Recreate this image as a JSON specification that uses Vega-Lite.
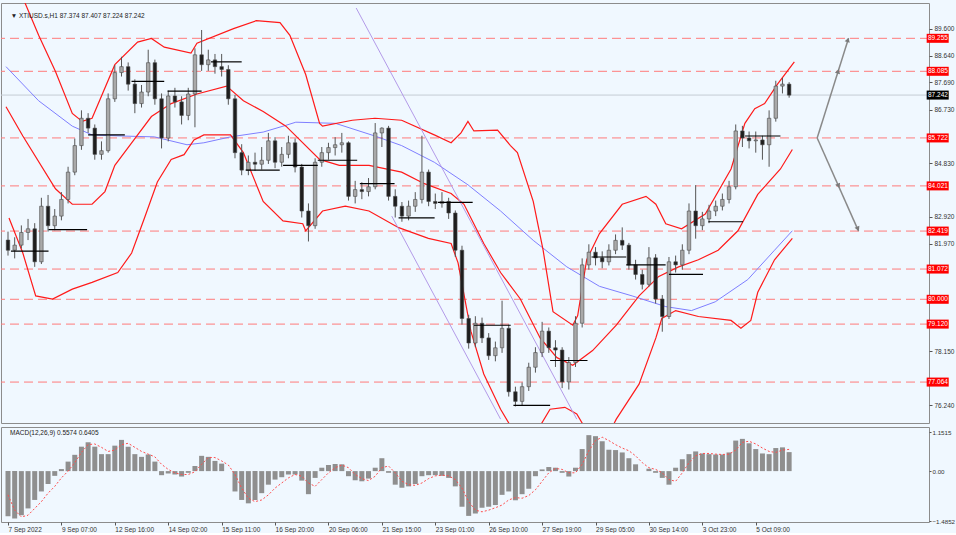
{
"$schema":"https://vega.github.io/schema/vega-lite/v6.json",
"background":"#f0f8ff",
"padding":{"left":0,"top":2,"right":0,"bottom":0},
"spacing":2,
"config":{"view":{"stroke":"#8c8c8c","strokeWidth":1,"fill":"#f0f8ff"},"axis":{"labelFont":"Liberation Sans","labelFontSize":6.5,"labelColor":"#333333","tickColor":"#555555","tickSize":3,"domain":false,"grid":false},"text":{"font":"Liberation Sans"}},
"datasets":{
"bars":[
{"i":0,"o":82.10,"h":82.40,"l":81.55,"c":81.74,"m":-1.33,"s":-0.70},
{"i":1,"o":81.74,"h":82.20,"l":81.45,"c":81.92,"m":-1.40,"s":-1.15},
{"i":2,"o":81.92,"h":82.62,"l":81.80,"c":82.37,"m":-1.30,"s":-1.35},
{"i":3,"o":82.37,"h":82.85,"l":82.10,"c":82.50,"m":-1.10,"s":-1.30},
{"i":4,"o":82.50,"h":82.70,"l":81.15,"c":81.33,"m":-0.85,"s":-1.10},
{"i":5,"o":81.33,"h":83.60,"l":81.25,"c":83.30,"m":-0.60,"s":-0.90},
{"i":6,"o":83.30,"h":83.70,"l":82.40,"c":82.61,"m":-0.38,"s":-0.65},
{"i":7,"o":82.61,"h":83.20,"l":82.45,"c":82.95,"m":-0.14,"s":-0.45},
{"i":8,"o":82.95,"h":83.80,"l":82.80,"c":83.54,"m":0.06,"s":-0.20},
{"i":9,"o":83.54,"h":84.70,"l":83.40,"c":84.51,"m":0.28,"s":0.00},
{"i":10,"o":84.51,"h":85.70,"l":84.40,"c":85.45,"m":0.48,"s":0.25},
{"i":11,"o":85.45,"h":86.70,"l":85.30,"c":86.42,"m":0.72,"s":0.55},
{"i":12,"o":86.42,"h":86.60,"l":85.90,"c":86.07,"m":0.85,"s":0.78},
{"i":13,"o":86.07,"h":86.20,"l":84.95,"c":85.14,"m":0.72,"s":0.80},
{"i":14,"o":85.14,"h":85.60,"l":84.95,"c":85.27,"m":0.50,"s":0.70},
{"i":15,"o":85.27,"h":87.30,"l":85.20,"c":87.11,"m":0.50,"s":0.58},
{"i":16,"o":87.11,"h":88.30,"l":87.00,"c":88.04,"m":0.75,"s":0.62},
{"i":17,"o":88.04,"h":88.60,"l":87.90,"c":88.25,"m":0.92,"s":0.78},
{"i":18,"o":88.25,"h":88.40,"l":87.40,"c":87.63,"m":0.72,"s":0.82},
{"i":19,"o":87.63,"h":87.80,"l":86.60,"c":86.94,"m":0.50,"s":0.70},
{"i":20,"o":86.94,"h":87.60,"l":86.80,"c":87.35,"m":0.42,"s":0.58},
{"i":21,"o":87.35,"h":88.85,"l":87.20,"c":88.39,"m":0.49,"s":0.50},
{"i":22,"o":88.39,"h":88.50,"l":86.90,"c":87.11,"m":0.28,"s":0.42},
{"i":23,"o":87.11,"h":87.30,"l":85.35,"c":85.72,"m":-0.12,"s":0.20},
{"i":24,"o":85.72,"h":87.40,"l":85.60,"c":87.21,"m":-0.07,"s":0.05},
{"i":25,"o":87.21,"h":87.50,"l":86.80,"c":87.00,"m":-0.10,"s":-0.05},
{"i":26,"o":87.00,"h":87.20,"l":86.20,"c":86.52,"m":-0.16,"s":-0.10},
{"i":27,"o":86.52,"h":87.50,"l":86.35,"c":87.28,"m":-0.05,"s":-0.10},
{"i":28,"o":87.28,"h":88.90,"l":86.10,"c":88.67,"m":0.15,"s":-0.02},
{"i":29,"o":88.67,"h":89.55,"l":88.10,"c":88.32,"m":0.45,"s":0.20},
{"i":30,"o":88.32,"h":88.85,"l":88.10,"c":88.49,"m":0.42,"s":0.40},
{"i":31,"o":88.49,"h":88.70,"l":88.00,"c":88.25,"m":0.30,"s":0.40},
{"i":32,"o":88.25,"h":88.70,"l":87.90,"c":88.15,"m":0.22,"s":0.30},
{"i":33,"o":88.15,"h":88.30,"l":86.90,"c":87.11,"m":0.00,"s":0.18},
{"i":34,"o":87.11,"h":87.25,"l":85.00,"c":85.20,"m":-0.60,"s":-0.10},
{"i":35,"o":85.20,"h":85.50,"l":84.40,"c":84.58,"m":-0.85,"s":-0.50},
{"i":36,"o":84.58,"h":85.10,"l":84.40,"c":84.86,"m":-0.95,"s":-0.80},
{"i":37,"o":84.86,"h":85.20,"l":84.55,"c":84.79,"m":-0.85,"s":-0.90},
{"i":38,"o":84.79,"h":85.40,"l":84.60,"c":84.93,"m":-0.65,"s":-0.85},
{"i":39,"o":84.93,"h":85.90,"l":84.80,"c":85.62,"m":-0.40,"s":-0.70},
{"i":40,"o":85.62,"h":85.75,"l":84.65,"c":84.86,"m":-0.25,"s":-0.50},
{"i":41,"o":84.86,"h":85.40,"l":84.70,"c":85.14,"m":-0.18,"s":-0.35},
{"i":42,"o":85.14,"h":85.80,"l":85.00,"c":85.55,"m":-0.10,"s":-0.20},
{"i":43,"o":85.55,"h":85.70,"l":84.50,"c":84.69,"m":-0.10,"s":-0.10},
{"i":44,"o":84.69,"h":84.80,"l":82.90,"c":83.13,"m":-0.28,"s":-0.15},
{"i":45,"o":83.13,"h":83.40,"l":82.05,"c":82.61,"m":-0.68,"s":-0.35},
{"i":46,"o":82.61,"h":85.00,"l":82.50,"c":84.86,"m":-0.20,"s":-0.45},
{"i":47,"o":84.86,"h":85.40,"l":84.70,"c":85.20,"m":0.10,"s":-0.25},
{"i":48,"o":85.20,"h":85.55,"l":84.95,"c":85.38,"m":0.18,"s":-0.05},
{"i":49,"o":85.38,"h":85.75,"l":85.10,"c":85.48,"m":0.21,"s":0.10},
{"i":50,"o":85.48,"h":85.90,"l":85.20,"c":85.55,"m":0.20,"s":0.18},
{"i":51,"o":85.55,"h":85.60,"l":83.50,"c":83.65,"m":-0.15,"s":0.10},
{"i":52,"o":83.65,"h":84.20,"l":83.40,"c":83.89,"m":-0.27,"s":-0.10},
{"i":53,"o":83.89,"h":84.15,"l":83.55,"c":83.82,"m":-0.30,"s":-0.22},
{"i":54,"o":83.82,"h":84.30,"l":83.65,"c":83.99,"m":-0.22,"s":-0.28},
{"i":55,"o":83.99,"h":86.25,"l":83.90,"c":85.90,"m":0.10,"s":-0.15},
{"i":56,"o":85.90,"h":86.10,"l":85.40,"c":86.07,"m":0.38,"s":0.10},
{"i":57,"o":86.07,"h":86.15,"l":83.50,"c":83.65,"m":-0.05,"s":0.15},
{"i":58,"o":83.65,"h":83.90,"l":82.90,"c":83.30,"m":-0.40,"s":-0.05},
{"i":59,"o":83.30,"h":83.45,"l":82.75,"c":82.95,"m":-0.49,"s":-0.30},
{"i":60,"o":82.95,"h":83.50,"l":82.80,"c":83.30,"m":-0.45,"s":-0.40},
{"i":61,"o":83.30,"h":83.80,"l":83.10,"c":83.54,"m":-0.38,"s":-0.42},
{"i":62,"o":83.54,"h":85.80,"l":83.40,"c":84.51,"m":-0.15,"s":-0.35},
{"i":63,"o":84.51,"h":84.60,"l":83.30,"c":83.47,"m":-0.12,"s":-0.22},
{"i":64,"o":83.47,"h":83.75,"l":83.20,"c":83.40,"m":-0.12,"s":-0.14},
{"i":65,"o":83.40,"h":83.80,"l":83.25,"c":83.47,"m":-0.14,"s":-0.12},
{"i":66,"o":83.47,"h":83.60,"l":82.85,"c":83.06,"m":-0.20,"s":-0.14},
{"i":67,"o":83.06,"h":83.15,"l":81.50,"c":81.74,"m":-0.45,"s":-0.25},
{"i":68,"o":81.74,"h":81.90,"l":79.10,"c":79.32,"m":-1.05,"s":-0.50},
{"i":69,"o":79.32,"h":79.45,"l":78.25,"c":78.45,"m":-1.32,"s":-0.90},
{"i":70,"o":78.45,"h":79.40,"l":78.30,"c":79.15,"m":-1.25,"s":-1.15},
{"i":71,"o":79.15,"h":79.35,"l":78.45,"c":78.63,"m":-1.08,"s":-1.20},
{"i":72,"o":78.63,"h":78.80,"l":77.85,"c":78.00,"m":-1.05,"s":-1.15},
{"i":73,"o":78.00,"h":78.50,"l":77.80,"c":78.28,"m":-1.00,"s":-1.08},
{"i":74,"o":78.28,"h":79.95,"l":78.10,"c":78.97,"m":-0.70,"s":-1.00},
{"i":75,"o":78.97,"h":79.10,"l":76.55,"c":76.72,"m":-0.60,"s":-0.85},
{"i":76,"o":76.72,"h":76.90,"l":76.20,"c":76.38,"m":-0.86,"s":-0.78},
{"i":77,"o":76.38,"h":77.05,"l":76.25,"c":76.90,"m":-0.68,"s":-0.80},
{"i":78,"o":76.90,"h":77.75,"l":76.75,"c":77.59,"m":-0.52,"s":-0.72},
{"i":79,"o":77.59,"h":78.30,"l":77.40,"c":78.11,"m":-0.15,"s":-0.55},
{"i":80,"o":78.11,"h":79.20,"l":77.95,"c":78.87,"m":0.05,"s":-0.30},
{"i":81,"o":78.87,"h":79.00,"l":78.10,"c":78.28,"m":0.12,"s":-0.05},
{"i":82,"o":78.28,"h":78.55,"l":77.60,"c":78.20,"m":0.10,"s":0.08},
{"i":83,"o":78.20,"h":78.30,"l":76.85,"c":77.07,"m":-0.05,"s":0.05},
{"i":84,"o":77.07,"h":77.95,"l":76.80,"c":77.76,"m":-0.16,"s":-0.05},
{"i":85,"o":77.76,"h":79.40,"l":77.60,"c":79.15,"m":0.10,"s":-0.05},
{"i":86,"o":79.15,"h":81.45,"l":79.00,"c":81.22,"m":0.65,"s":0.20},
{"i":87,"o":81.22,"h":81.95,"l":81.05,"c":81.67,"m":1.06,"s":0.60},
{"i":88,"o":81.67,"h":81.85,"l":81.20,"c":81.47,"m":1.03,"s":0.90},
{"i":89,"o":81.47,"h":81.70,"l":81.10,"c":81.33,"m":0.88,"s":1.00},
{"i":90,"o":81.33,"h":81.95,"l":81.20,"c":81.74,"m":0.63,"s":0.90},
{"i":91,"o":81.74,"h":82.30,"l":81.60,"c":82.09,"m":0.62,"s":0.78},
{"i":92,"o":82.09,"h":82.55,"l":81.75,"c":81.92,"m":0.55,"s":0.68},
{"i":93,"o":81.92,"h":82.00,"l":81.05,"c":81.22,"m":0.38,"s":0.60},
{"i":94,"o":81.22,"h":81.40,"l":80.70,"c":80.88,"m":0.20,"s":0.45},
{"i":95,"o":80.88,"h":81.05,"l":80.35,"c":80.53,"m":0.00,"s":0.25},
{"i":96,"o":80.53,"h":81.85,"l":80.45,"c":81.47,"m":0.07,"s":0.10},
{"i":97,"o":81.47,"h":81.60,"l":79.85,"c":80.01,"m":-0.05,"s":0.05},
{"i":98,"o":80.01,"h":80.15,"l":78.85,"c":79.39,"m":-0.20,"s":-0.05},
{"i":99,"o":79.39,"h":81.50,"l":79.30,"c":81.33,"m":-0.40,"s":-0.25},
{"i":100,"o":81.33,"h":81.55,"l":80.95,"c":81.22,"m":0.10,"s":-0.30},
{"i":101,"o":81.22,"h":81.95,"l":81.05,"c":81.74,"m":0.35,"s":-0.05},
{"i":102,"o":81.74,"h":83.40,"l":81.60,"c":83.13,"m":0.50,"s":0.25},
{"i":103,"o":83.13,"h":84.05,"l":82.15,"c":82.61,"m":0.58,"s":0.45},
{"i":104,"o":82.61,"h":83.10,"l":82.45,"c":82.85,"m":0.52,"s":0.52},
{"i":105,"o":82.85,"h":83.35,"l":82.70,"c":83.13,"m":0.50,"s":0.52},
{"i":106,"o":83.13,"h":83.50,"l":82.95,"c":83.30,"m":0.49,"s":0.50},
{"i":107,"o":83.30,"h":83.75,"l":83.15,"c":83.54,"m":0.49,"s":0.49},
{"i":108,"o":83.54,"h":84.20,"l":83.40,"c":83.99,"m":0.55,"s":0.50},
{"i":109,"o":83.99,"h":86.20,"l":83.90,"c":85.97,"m":0.90,"s":0.62},
{"i":110,"o":85.97,"h":86.15,"l":85.40,"c":85.72,"m":0.95,"s":0.85},
{"i":111,"o":85.72,"h":85.95,"l":85.35,"c":85.62,"m":0.82,"s":0.88},
{"i":112,"o":85.62,"h":85.95,"l":85.20,"c":85.65,"m":0.65,"s":0.80},
{"i":113,"o":85.65,"h":85.80,"l":84.95,"c":85.48,"m":0.52,"s":0.68},
{"i":114,"o":85.48,"h":86.70,"l":84.70,"c":86.42,"m":0.50,"s":0.58},
{"i":115,"o":86.42,"h":87.75,"l":86.30,"c":87.56,"m":0.68,"s":0.55},
{"i":116,"o":87.56,"h":87.85,"l":87.30,"c":87.63,"m":0.70,"s":0.62},
{"i":117,"o":87.63,"h":87.70,"l":87.15,"c":87.24,"m":0.56,"s":0.64}
],
"levels":[{"p":89.255},{"p":88.085},{"p":85.722},{"p":84.021},{"p":82.419},{"p":81.072},{"p":80.000},{"p":79.120},{"p":77.064}],
"cur":[{"p":87.242}],
"bb":[
{"b":"u","i":1.5,"p":91.1},{"b":"u","i":4.59,"p":89.36},{"b":"u","i":7.11,"p":88.08},{"b":"u","i":9.63,"p":86.59},{"b":"u","i":11.11,"p":86.31},{"b":"u","i":12.59,"p":86.42},{"b":"u","i":16.0,"p":88.32},{"b":"u","i":19.41,"p":89.12},{"b":"u","i":21.48,"p":89.25},{"b":"u","i":23.41,"p":88.94},{"b":"u","i":27.41,"p":88.73},{"b":"u","i":28.3,"p":89.08},{"b":"u","i":33.78,"p":89.6},{"b":"u","i":37.19,"p":89.88},{"b":"u","i":40.74,"p":89.81},{"b":"u","i":42.22,"p":89.36},{"b":"u","i":44.59,"p":87.97},{"b":"u","i":46.67,"p":86.24},{"b":"u","i":47.11,"p":86.14},{"b":"u","i":51.56,"p":86.35},{"b":"u","i":54.96,"p":86.42},{"b":"u","i":58.96,"p":86.35},{"b":"u","i":63.85,"p":85.83},{"b":"u","i":66.37,"p":85.55},{"b":"u","i":67.85,"p":85.9},{"b":"u","i":68.89,"p":86.31},{"b":"u","i":69.78,"p":85.97},{"b":"u","i":73.33,"p":86.0},{"b":"u","i":75.26,"p":85.45},{"b":"u","i":76.3,"p":85.2},{"b":"u","i":78.67,"p":83.47},{"b":"u","i":80.15,"p":81.74},{"b":"u","i":81.63,"p":79.56},{"b":"u","i":84.59,"p":79.08},{"b":"u","i":85.33,"p":79.42},{"b":"u","i":86.67,"p":81.4},{"b":"u","i":88.59,"p":82.33},{"b":"u","i":92.0,"p":83.37},{"b":"u","i":95.56,"p":83.65},{"b":"u","i":97.04,"p":83.37},{"b":"u","i":98.52,"p":82.68},{"b":"u","i":100.89,"p":82.5},{"b":"u","i":104.44,"p":83.02},{"b":"u","i":108.3,"p":84.62},{"b":"u","i":110.37,"p":86.24},{"b":"u","i":111.85,"p":86.76},{"b":"u","i":113.33,"p":86.94},{"b":"u","i":115.26,"p":87.63},{"b":"u","i":117.78,"p":88.42},
{"b":"m","i":-0.3,"p":86.83},{"b":"m","i":2.22,"p":85.79},{"b":"m","i":7.11,"p":83.92},{"b":"m","i":9.63,"p":83.37},{"b":"m","i":12.59,"p":83.37},{"b":"m","i":14.52,"p":83.82},{"b":"m","i":16.0,"p":84.75},{"b":"m","i":18.52,"p":85.55},{"b":"m","i":21.48,"p":86.48},{"b":"m","i":24.44,"p":86.94},{"b":"m","i":28.3,"p":87.28},{"b":"m","i":32.74,"p":87.56},{"b":"m","i":35.26,"p":87.04},{"b":"m","i":38.22,"p":86.66},{"b":"m","i":41.63,"p":86.14},{"b":"m","i":46.67,"p":84.96},{"b":"m","i":49.63,"p":84.75},{"b":"m","i":54.07,"p":84.75},{"b":"m","i":58.96,"p":84.51},{"b":"m","i":62.37,"p":84.1},{"b":"m","i":66.37,"p":83.75},{"b":"m","i":68.3,"p":83.37},{"b":"m","i":71.26,"p":81.98},{"b":"m","i":73.78,"p":80.95},{"b":"m","i":76.74,"p":80.01},{"b":"m","i":79.7,"p":78.63},{"b":"m","i":82.22,"p":77.93},{"b":"m","i":84.59,"p":77.66},{"b":"m","i":87.56,"p":78.18},{"b":"m","i":91.11,"p":79.08},{"b":"m","i":94.52,"p":80.12},{"b":"m","i":97.48,"p":80.81},{"b":"m","i":100.44,"p":81.15},{"b":"m","i":103.41,"p":81.4},{"b":"m","i":106.37,"p":81.74},{"b":"m","i":109.33,"p":82.43},{"b":"m","i":112.3,"p":83.72},{"b":"m","i":115.7,"p":84.62},{"b":"m","i":117.48,"p":85.31},
{"b":"l","i":0.15,"p":82.88},{"b":"l","i":2.22,"p":81.64},{"b":"l","i":4.15,"p":80.12},{"b":"l","i":6.67,"p":80.01},{"b":"l","i":9.63,"p":80.36},{"b":"l","i":12.59,"p":80.6},{"b":"l","i":16.44,"p":80.95},{"b":"l","i":18.52,"p":81.64},{"b":"l","i":20.44,"p":82.88},{"b":"l","i":22.37,"p":84.16},{"b":"l","i":24.44,"p":84.96},{"b":"l","i":26.37,"p":85.13},{"b":"l","i":27.85,"p":85.65},{"b":"l","i":29.33,"p":85.83},{"b":"l","i":33.33,"p":85.83},{"b":"l","i":35.26,"p":85.2},{"b":"l","i":38.22,"p":83.47},{"b":"l","i":41.19,"p":82.78},{"b":"l","i":44.15,"p":82.68},{"b":"l","i":44.59,"p":82.43},{"b":"l","i":47.11,"p":83.13},{"b":"l","i":50.52,"p":83.3},{"b":"l","i":54.07,"p":83.13},{"b":"l","i":58.52,"p":82.54},{"b":"l","i":62.96,"p":82.16},{"b":"l","i":66.37,"p":81.98},{"b":"l","i":67.41,"p":81.29},{"b":"l","i":69.33,"p":78.87},{"b":"l","i":71.26,"p":77.35},{"b":"l","i":73.78,"p":76.1},{"b":"l","i":75.26,"p":75.51},{"b":"l","i":77.5,"p":75.2},{"b":"l","i":79.7,"p":75.51},{"b":"l","i":81.19,"p":76.1},{"b":"l","i":83.41,"p":76.17},{"b":"l","i":85.19,"p":75.93},{"b":"l","i":87.11,"p":75.17},{"b":"l","i":89.5,"p":75.0},{"b":"l","i":91.11,"p":75.75},{"b":"l","i":94.52,"p":76.99},{"b":"l","i":97.04,"p":78.63},{"b":"l","i":97.93,"p":79.32},{"b":"l","i":100.0,"p":79.6},{"b":"l","i":103.41,"p":79.39},{"b":"l","i":108.3,"p":79.25},{"b":"l","i":109.78,"p":78.97},{"b":"l","i":111.26,"p":79.25},{"b":"l","i":112.3,"p":80.25},{"b":"l","i":114.81,"p":81.4},{"b":"l","i":117.48,"p":82.16}
],
"ma":[
{"i":-0.3,"p":88.25},{"i":4.59,"p":87.04},{"i":9.63,"p":86.14},{"i":12.59,"p":85.83},{"i":17.04,"p":85.79},{"i":21.93,"p":85.76},{"i":26.81,"p":85.48},{"i":29.33,"p":85.55},{"i":33.33,"p":85.76},{"i":38.22,"p":85.93},{"i":41.63,"p":86.17},{"i":43.11,"p":86.28},{"i":49.04,"p":86.24},{"i":54.96,"p":85.79},{"i":58.96,"p":85.45},{"i":63.85,"p":84.86},{"i":68.89,"p":84.06},{"i":73.78,"p":83.13},{"i":78.67,"p":82.09},{"i":83.7,"p":81.15},{"i":88.59,"p":80.46},{"i":93.48,"p":80.12},{"i":98.52,"p":79.74},{"i":102.37,"p":79.6},{"i":105.93,"p":79.91},{"i":110.81,"p":80.7},{"i":114.81,"p":81.74},{"i":117.48,"p":82.43}
],
"tl":[{"g":"a","i":52.15,"p":90.33},{"g":"a","i":85.19,"p":75.75},{"g":"b","i":57.48,"p":82.95},{"g":"b","i":73.78,"p":75.75}],
"seg":[
{"a":0.44,"b":6.07,"p":81.71},{"a":6.07,"b":11.85,"p":82.47},{"a":12.0,"b":17.5,"p":85.83},{"a":18.5,"b":23.4,"p":87.73},{"a":23.9,"b":29.0,"p":87.38},{"a":30.4,"b":35.0,"p":88.42},{"a":35.6,"b":40.7,"p":84.58},{"a":41.2,"b":46.4,"p":84.75},{"a":46.4,"b":52.3,"p":84.93},{"a":52.7,"b":57.9,"p":84.1},{"a":58.5,"b":63.9,"p":82.89},{"a":64.4,"b":69.6,"p":83.44},{"a":69.8,"b":75.3,"p":79.08},{"a":75.7,"b":81.2,"p":76.24},{"a":81.2,"b":86.8,"p":77.83},{"a":87.4,"b":92.6,"p":81.5},{"a":92.6,"b":98.5,"p":81.22},{"a":99.0,"b":104.1,"p":80.88},{"a":104.9,"b":110.1,"p":82.75},{"a":110.4,"b":115.7,"p":85.79}
],
"arrows":[{"g":"up","i":121.2,"p":85.722},{"g":"up","i":125.9,"p":89.255},{"g":"dn","i":121.2,"p":85.722},{"g":"dn","i":127.4,"p":82.419}],
"heads":[{"g":"up","i":125.8,"p":89.2},{"g":"up","i":124.34,"p":88.085},{"g":"dn","i":127.3,"p":82.5},{"g":"dn","i":124.4,"p":84.021}]
},
"vconcat":[
{"width":928,"height":420,
"layer":[
{"data":{"name":"levels"},"mark":{"type":"rule","color":"#ff7b7b","strokeDash":[9,5],"strokeWidth":1},
 "encoding":{"y":{"field":"p","type":"quantitative","title":null,"scale":{"domain":[75.79,90.33],"nice":false,"zero":false},"axis":{"orient":"right","values":[89.6,88.64,87.69,86.73,84.83,82.92,81.97,78.15,76.24],"format":".3f","title":null,"labelPadding":2}}}},
{"data":{"name":"cur"},"mark":{"type":"rule","color":"#c4ccd4","strokeWidth":1},
 "encoding":{"y":{"field":"p","type":"quantitative","title":null}}},
{"data":{"name":"ma"},"mark":{"type":"line","color":"#7f7fff","strokeWidth":1,"clip":true},
 "encoding":{"x":{"field":"i","type":"quantitative","scale":{"domain":[-0.3,137.2],"nice":false,"zero":false},"axis":null},"y":{"field":"p","type":"quantitative","title":null}}},
{"data":{"name":"bb"},"mark":{"type":"line","color":"#ff1a1a","strokeWidth":1.2,"clip":true},
 "encoding":{"x":{"field":"i","type":"quantitative","axis":null},"y":{"field":"p","type":"quantitative","title":null},"detail":{"field":"b"}}},
{"data":{"name":"tl"},"mark":{"type":"line","color":"#b39ae8","strokeWidth":1,"clip":true},
 "encoding":{"x":{"field":"i","type":"quantitative","axis":null},"y":{"field":"p","type":"quantitative","title":null},"detail":{"field":"g"}}},
{"data":{"name":"bars"},"mark":{"type":"rule","color":"#555555","strokeWidth":1},
 "encoding":{"x":{"field":"i","type":"quantitative","axis":null},"y":{"field":"l","type":"quantitative","title":null},"y2":{"field":"h"}}},
{"data":{"name":"bars"},"mark":{"type":"bar","size":3.5,"stroke":"#4a4a4a","strokeWidth":0.6},
 "encoding":{"x":{"field":"i","type":"quantitative","axis":null},"y":{"field":"o","type":"quantitative","title":null},"y2":{"field":"c"},
  "color":{"condition":{"test":"datum.c>=datum.o","value":"#a9a9a9"},"value":"#1e1e1e"}}},
{"data":{"name":"seg"},"mark":{"type":"rule","color":"#000000","strokeWidth":1.2},
 "encoding":{"x":{"field":"a","type":"quantitative","axis":null},"x2":{"field":"b"},"y":{"field":"p","type":"quantitative","title":null}}},
{"data":{"name":"arrows"},"mark":{"type":"line","color":"#8a8a8a","strokeWidth":1.5},
 "encoding":{"x":{"field":"i","type":"quantitative","axis":null},"y":{"field":"p","type":"quantitative","title":null},"detail":{"field":"g"}}},
{"data":{"name":"heads"},"transform":[{"filter":"datum.g=='up'"}],"mark":{"type":"point","shape":"triangle-up","filled":true,"size":28,"color":"#7a7a7a","angle":17.7,"opacity":1},
 "encoding":{"x":{"field":"i","type":"quantitative","axis":null},"y":{"field":"p","type":"quantitative","title":null}}},
{"data":{"name":"heads"},"transform":[{"filter":"datum.g=='dn'"}],"mark":{"type":"point","shape":"triangle-up","filled":true,"size":28,"color":"#7a7a7a","angle":156.6,"opacity":1},
 "encoding":{"x":{"field":"i","type":"quantitative","axis":null},"y":{"field":"p","type":"quantitative","title":null}}},
{"data":{"name":"levels"},"mark":{"type":"bar","size":9,"color":"#ff0000"},
 "encoding":{"x":{"datum":137.6,"axis":null},"x2":{"datum":140.9},"y":{"field":"p","type":"quantitative","title":null}}},
{"data":{"name":"cur"},"mark":{"type":"bar","size":9,"color":"#000000"},
 "encoding":{"x":{"datum":137.6,"axis":null},"x2":{"datum":140.9},"y":{"field":"p","type":"quantitative","title":null}}},
{"data":{"name":"levels"},"mark":{"type":"text","align":"left","baseline":"middle","fontSize":6.5,"color":"#ffffff"},
 "encoding":{"x":{"datum":137.8,"axis":null},"y":{"field":"p","type":"quantitative","title":null},"text":{"field":"p","type":"quantitative","format":".3f"}}},
{"data":{"name":"cur"},"mark":{"type":"text","align":"left","baseline":"middle","fontSize":6.5,"color":"#ffffff"},
 "encoding":{"x":{"datum":137.8,"axis":null},"y":{"field":"p","type":"quantitative","title":null},"text":{"field":"p","type":"quantitative","format":".3f"}}},
{"data":{"values":[{"t":"▼ XTIUSD.s,H1  87.374 87.407 87.224 87.242"}]},"mark":{"type":"text","align":"left","baseline":"middle","fontSize":6.5,"color":"#222222"},
 "encoding":{"x":{"datum":0.4,"axis":null},"y":{"datum":90.06,"title":null},"text":{"field":"t"}}}
]},
{"width":928,"height":95,"data":{"name":"bars"},
"layer":[
{"mark":{"type":"bar","size":5,"color":"#8f8f8f"},
 "encoding":{"x":{"field":"i","type":"quantitative","title":null,"scale":{"domain":[-0.3,137.2],"nice":false,"zero":false},
   "axis":{"orient":"bottom","values":[0,8,16,24,32,40,48,56,64,72,80,88,96,104,112],"labelExpr":"['7 Sep 2022','9 Sep 07:00','12 Sep 16:00','14 Sep 02:00','15 Sep 11:00','16 Sep 20:00','20 Sep 06:00','21 Sep 15:00','23 Sep 01:00','26 Sep 10:00','27 Sep 19:00','29 Sep 05:00','30 Sep 14:00','3 Oct 23:00','5 Oct 09:00'][round(datum.value/8)]","labelAlign":"left","labelPadding":1,"labelFlush":false,"title":null}},
  "y":{"field":"m","type":"quantitative","title":null,"scale":{"domain":[-1.5,1.3],"nice":false,"zero":false},
   "axis":{"orient":"right","values":[1.1515,0,-1.4852],"labelExpr":"datum.value==0?'0.00':format(datum.value,'.4f')","labelPadding":1,"tickSize":2,"labelFontSize":6.2,"title":null}},
  "y2":{"datum":0}}},
{"mark":{"type":"line","color":"#ff4d4d","strokeDash":[2,2],"strokeWidth":1},
 "encoding":{"x":{"field":"i","type":"quantitative","title":null},"y":{"field":"s","type":"quantitative","title":null}}},
{"data":{"values":[{"t":"MACD(12,26,9) 0.5574 0.6405"}]},"mark":{"type":"text","align":"left","baseline":"middle","fontSize":6.5,"color":"#222222"},
 "encoding":{"x":{"datum":0.3,"title":null},"y":{"datum":1.12,"title":null},"text":{"field":"t"}}}
]}
]
}
